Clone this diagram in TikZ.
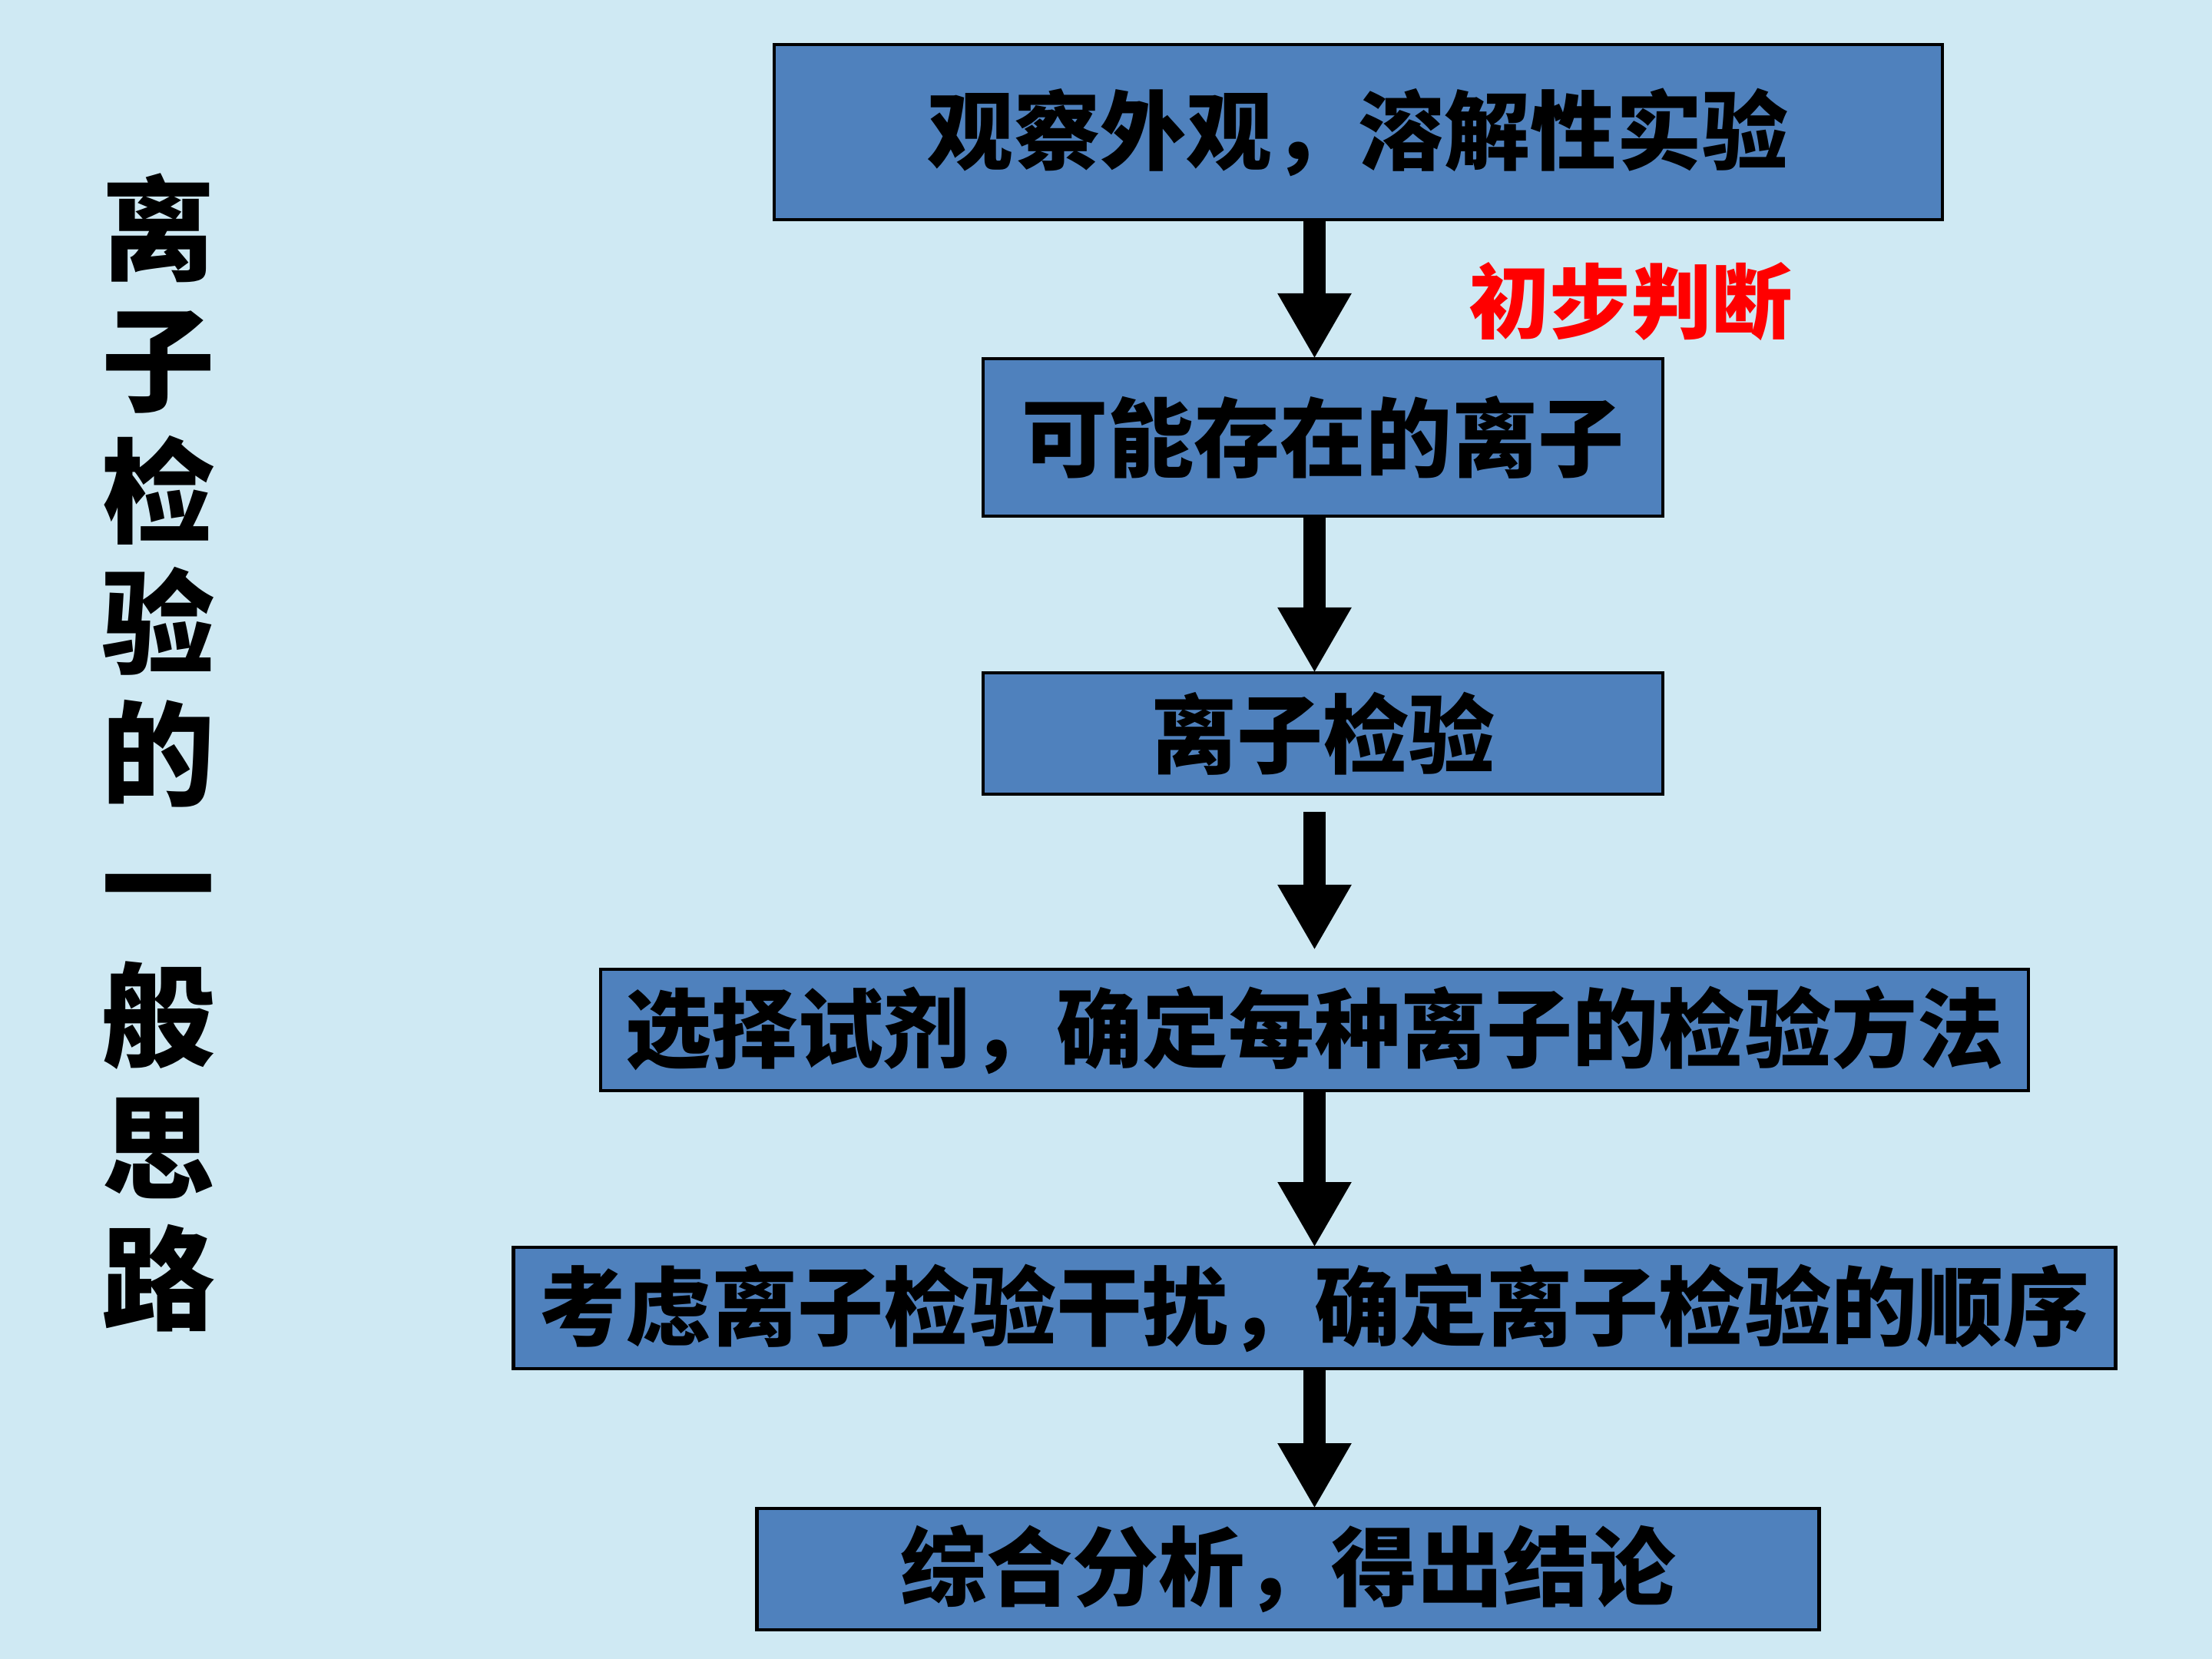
\documentclass[tikz,border=0pt]{standalone}
\usepackage{fontspec}
\setmainfont{Noto Sans CJK SC}
\usepackage{xcolor}
\usepackage{tikz}
\usetikzlibrary{positioning, arrows.meta}
\definecolor{paper}{RGB}{207,233,243}
\definecolor{boxblue}{RGB}{79,129,189}
\tikzset{
  stepbox/.style={draw, line width=1.2pt, fill=boxblue, minimum height=1.58cm, inner sep=0pt, outer sep=0pt, font=\fontsize{31.9}{38}\selectfont\bfseries},
  flow/.style={-{Triangle[width=0.9cm, length=0.85cm]}, line width=0.29cm},
}

\begin{document}
\begin{tikzpicture}
  \fill[paper] (0,0) rectangle (28.8,-21.6);
  \useasboundingbox (0,0) rectangle (28.8,-21.6);
  % title, one character per line
  \node[align=center, font=\fontsize{42}{48.6}\selectfont\bfseries] (title) at (2.06,-9.8)
    {离\\子\\检\\验\\的\\一\\般\\思\\路};
  % flow chart
  \node[stepbox, minimum width=15.21cm, minimum height=2.28cm] (look) at (17.685,-1.72) {观察外观，溶解性实验};
  \node[stepbox, minimum width=8.85cm, minimum height=2.05cm, below=1.81cm of look, xshift=-0.46cm] (maybe) {可能存在的离子};
  \node[stepbox, minimum width=8.85cm, below=2.04cm of maybe] (test) {离子检验};
  \node[stepbox, minimum width=18.59cm, below=2.28cm of test, xshift=-0.11cm] (reagent) {选择试剂，确定每种离子的检验方法};
  \node[stepbox, minimum width=20.86cm, below=2.04cm of reagent] (order) {考虑离子检验干扰，确定离子检验的顺序};
  \node[stepbox, minimum width=13.83cm, below=1.82cm of order, xshift=-0.345cm] (result) {综合分析，得出结论};
  \node[text=red, font=\fontsize{30}{36}\selectfont\bfseries] (guess) at (21.23,-3.93) {初步判断};
  \draw[flow] (look.south -| reagent) -- (maybe.north -| reagent);
  \draw[flow] (maybe.south -| reagent) -- (test.north -| reagent);
  \draw[flow, shorten <=0.23cm, shorten >=0.25cm] (test.south -| reagent) -- (reagent.north);
  \draw[flow] (reagent) -- (order);
  \draw[flow] (order.south -| reagent) -- (result.north -| reagent);
\end{tikzpicture}
\end{document}
